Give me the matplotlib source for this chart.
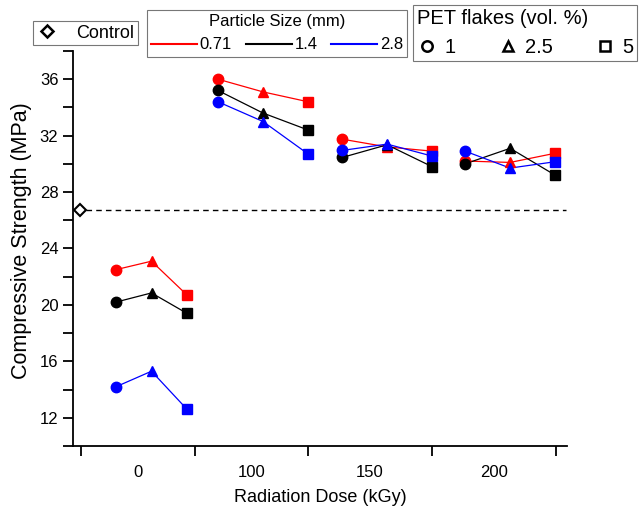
import matplotlib
matplotlib.use("Agg")
import matplotlib.pyplot as plt
from matplotlib.lines import Line2D
import numpy as np

plt.rcParams['font.family'] = ['Liberation Sans', 'DejaVu Sans']

# ---- data ----
dose_groups = ["0", "100", "150", "200"]
pet_levels = ["1", "2.5", "5"]
particle_sizes = ["0.71", "1.4", "2.8"]
colors = ["#ff0000", "#000000", "#0000ff"]
markers = ["o", "^", "s"]

# x slot positions (categorical layout) for the 3 PET levels in each dose group
slot_x = {
    "0":   [36, 71.5, 107],
    "100": [138, 183, 228],
    "150": [262, 307, 352],
    "200": [385, 430, 475],
}
group_edges = [1, 115, 228, 352, 476]
control_x = 0
control_value = 26.7

# compressive strength (MPa) [particle size][dose group][PET level]
strength = {
    "0.71": {"0": [22.5, 23.1, 20.7], "100": [36.0, 35.1, 34.4],
             "150": [31.75, 31.2, 30.9], "200": [30.2, 30.1, 30.75]},
    "1.4":  {"0": [20.2, 20.85, 19.4], "100": [35.2, 33.6, 32.4],
             "150": [30.45, 31.35, 29.8], "200": [30.0, 31.1, 29.2]},
    "2.8":  {"0": [14.2, 15.3, 12.6], "100": [34.4, 33.0, 30.7],
             "150": [30.95, 31.4, 30.55], "200": [30.9, 29.7, 30.15]},
}

# ---- figure ----
fig = plt.figure(figsize=(6.43, 5.15), dpi=100)
ax = fig.add_axes([0.1135, 0.134, 0.7685, 0.767])

ax.hlines(control_value, control_x + 6, 486, colors="black",
          linestyles=(0, (4, 3)), linewidth=1.0, zorder=1)
ax.plot([control_x], [control_value], marker="D", markersize=6,
        markerfacecolor="white", markeredgecolor="black", markeredgewidth=1.5,
        linestyle="none", zorder=3)

for size, col in zip(particle_sizes, colors):
    for g in dose_groups:
        xs = slot_x[g]
        ys = strength[size][g]
        ax.plot(xs, ys, color=col, linewidth=0.9, zorder=2)
        for xx, yy, mk in zip(xs, ys, markers):
            ax.plot([xx], [yy], marker=mk, color=col, markersize=7.5,
                    linestyle="none", zorder=3)

ax.set_xlim(-7, 487)
ax.set_ylim(10, 38)

ax.spines["top"].set_visible(False)
ax.spines["right"].set_visible(False)
ax.spines["left"].set_linewidth(1.3)
ax.spines["bottom"].set_linewidth(1.3)

ax.set_xticks(group_edges)
ax.set_xticklabels([])
mids = [(group_edges[i] + group_edges[i + 1]) / 2 for i in range(4)]
ax.set_xticks(mids, minor=True)
ax.set_xticklabels(dose_groups, minor=True)
ax.tick_params(axis="x", which="major", direction="out", length=7, width=1.3)
ax.tick_params(axis="x", which="minor", length=0, pad=14, labelsize=12)

ax.set_yticks([12, 16, 20, 24, 28, 32, 36])
ax.set_yticks(np.arange(10, 39, 2), minor=True)
ax.tick_params(axis="y", which="both", direction="out", length=7, width=1.3,
               labelsize=12)

ax.set_xlabel("Radiation Dose (kGy)", fontsize=13, labelpad=6)
ax.set_ylabel("Compressive Strength (MPa)", fontsize=15.5)
ax.yaxis.set_label_coords(-0.083, 0.52)

# ---- legends ----
W, H = 643, 515

ctrl_handle = Line2D([], [], marker="D", markersize=6, markerfacecolor="white",
                     markeredgecolor="black", markeredgewidth=1.8, linestyle="none")
leg1 = fig.legend([ctrl_handle], ["Control"], loc="upper left",
                  bbox_to_anchor=(33 / W, 1 - 21 / H), frameon=True,
                  fancybox=False, edgecolor="#555555", fontsize=13,
                  handletextpad=1.0, borderpad=0.2, handlelength=1.2,
                  borderaxespad=0)
leg1.get_frame().set_linewidth(0.8)

size_handles = [Line2D([], [], color=c, linewidth=1.5) for c in colors]
leg2 = fig.legend(size_handles, particle_sizes, loc="upper left",
                  bbox_to_anchor=(147 / W, 1 - 10 / H), ncol=3, frameon=True,
                  fancybox=False, edgecolor="#555555", fontsize=12,
                  title="Particle Size (mm)", title_fontsize=12,
                  handlelength=2.75, handletextpad=0.15, columnspacing=0.85,
                  borderpad=0.25, borderaxespad=0)
leg2.get_frame().set_linewidth(0.8)

pet_handles = [Line2D([], [], marker=m, markersize=7.5, markerfacecolor="white",
                      markeredgecolor="black", markeredgewidth=1.8,
                      linestyle="none") for m in markers]
leg3 = fig.legend(pet_handles, pet_levels, loc="upper left",
                  bbox_to_anchor=(413 / W, 1 - 5 / H), ncol=3, frameon=True,
                  fancybox=False, edgecolor="#555555", fontsize=14.5,
                  title="PET flakes (vol. %)", title_fontsize=14.5,
                  alignment="left", handlelength=1.0, handletextpad=0.35,
                  columnspacing=2.1, borderpad=0.2, borderaxespad=0)
leg3.get_frame().set_linewidth(0.8)

fig.savefig("out.png", dpi=100)
